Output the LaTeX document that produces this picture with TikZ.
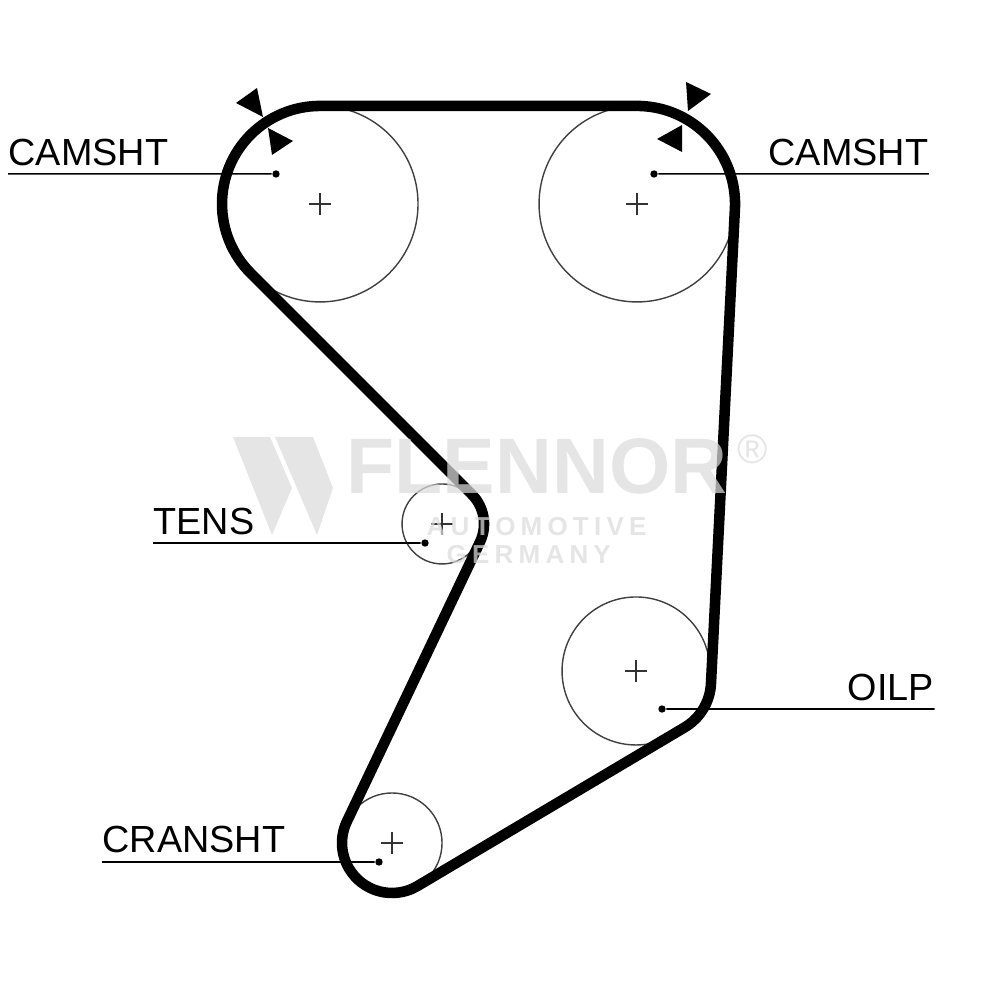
\documentclass[tikz,border=0pt]{standalone}
\usepackage{fontspec}
\setmainfont{Liberation Sans}
\newfontfamily\wideletters[LetterSpace=20]{Liberation Sans}
\usetikzlibrary{calc}

\begin{document}
\begin{tikzpicture}[
  scale=0.1,
  belt/.style={line width=3pt,line join=round},
  pulley/.style={line width=0.4pt,black!75},
  centremark/.style={line width=0.45pt,black!80},
  leader/.style={line width=0.45pt},
  tick/.style={fill=black},
  lbl/.style={anchor=base west,inner sep=0,font=\fontsize{10.75}{12}\selectfont},
  pin/.style={circle,fill=black,inner sep=0,minimum size=2.1pt},
  wm/.style={inner sep=0,anchor=base west,text=black!14,text opacity=0.72}
  ]

  \useasboundingbox (0, 0) rectangle (100, 100);

  \coordinate (camL) at (32, 79.6);
  \coordinate (camR) at (63.7, 79.6);
  \coordinate (tens) at (44.2, 47.6);
  \coordinate (oil) at (63.6, 32.9);
  \coordinate (crank) at (39.2, 15.7);
  \coordinate (bend) at (65.7, 31.9);

  % pulleys
  \draw[pulley] (camL) circle (9.8);
  \draw[pulley] (camR) circle (9.8);
  \draw[pulley] (tens) circle (4);
  \draw[pulley] (oil) circle (7.4);
  \draw[pulley] (crank) circle (5);
  \foreach \c in {camL, camR, tens, oil, crank}
    \draw[centremark] (\c) ++(-1.1, 0) -- ++(2.2, 0) (\c) ++(0, -1.1) -- ++(0, 2.2);

  % belt
  \draw[belt] ($(camL)+(90:9.8)$) -- ($(camR)+(90:9.8)$)
    arc[start angle=90, end angle=-2.7, radius=9.8]
    -- ($(bend)+(-2.7:5.4)$)
    arc[start angle=-2.7, end angle=-60, radius=5.4]
    -- ($(crank)+(-60:5)$)
    arc[start angle=-60, end angle=-205, radius=5]
    -- ($(tens)+(-25:4.2)$)
    arc[start angle=-25, end angle=45, radius=4.2]
    -- ($(camL)+(225:9.8)$)
    arc[start angle=225, end angle=90, radius=9.8] -- cycle;

  % timing marks
  \fill[tick] (23.6, 89.7) -- (25.7, 91.2) -- (26.3, 88.3) -- cycle;
  \fill[tick] (26.8, 87.2) -- (29.3, 85.9) -- (27.2, 84.5) -- cycle;
  \fill[tick] (68.6, 91.8) -- (71.1, 90.6) -- (68.8, 88.9) -- cycle;
  \fill[tick] (65.7, 86.1) -- (68.2, 87.5) -- (68.2, 84.8) -- cycle;

  % labels
  \node[pin] (pinCamL) at (27.6, 82.6) {};
  \node[pin] (pinCamR) at (65.4, 82.6) {};
  \node[pin] (pinTens) at (42.5, 45.7) {};
  \node[pin] (pinOil) at (66.2, 29.1) {};
  \node[pin] (pinCrank) at (37.9, 13.8) {};

  \node[lbl] (lblCamL) at (0.8, 83.4) {CAMSHT};
  \node[lbl] (lblCamR) at (76.8, 83.4) {CAMSHT};
  \node[lbl] (lblTens) at (15.3, 46.5) {TENS};
  \node[lbl] (lblOil) at (84.7, 29.9) {OILP};
  \node[lbl] (lblCrank) at (10.2, 14.7) {CRANSHT};

  \draw[leader] (lblCamL.west |- pinCamL) -- (pinCamL);
  \draw[leader] (lblCamR.east |- pinCamR) -- (pinCamR);
  \draw[leader] (lblTens.west |- pinTens) -- (pinTens);
  \draw[leader] (lblOil.east |- pinOil) -- (pinOil);
  \draw[leader] (lblCrank.west |- pinCrank) -- (pinCrank);

  % watermark
  \fill[black!14, opacity=0.72] (23.3, 56.3) -- (27, 56.3) -- (29.2, 51.2) -- (27.2, 46.5) -- cycle;
  \fill[black!14, opacity=0.72] (27.5, 56.3) -- (31.3, 56.3) -- (33.3, 51.2) -- (31.7, 46.5) -- cycle;
  \node[wm, font=\fontsize{22.4}{24}\bfseries\selectfont] (wmName) at (34.6, 50.6) {FLENNOR};
  \node[wm, font=\fontsize{11.7}{13}\selectfont] (wmReg) at (73.7, 53.6) {®};
  \node[wm, font=\wideletters\bfseries\fontsize{7.4}{9}\selectfont] (wmLineA) at (42.6, 46.4) {AUTOMOTIVE};
  \node[wm, font=\wideletters\bfseries\fontsize{7.4}{9}\selectfont] (wmLineB) at (44.6, 43.6) {GERMANY};

\end{tikzpicture}
\end{document}
